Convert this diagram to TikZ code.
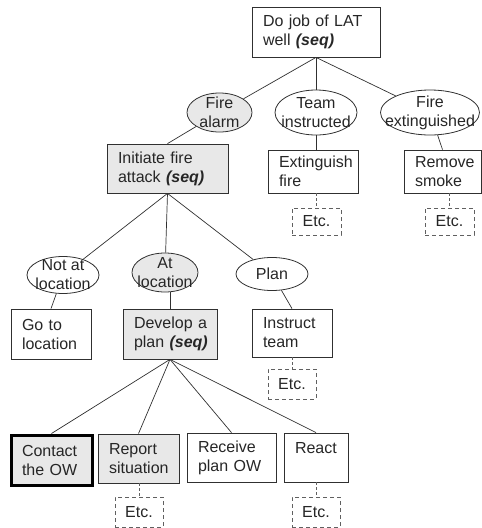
\documentclass[tikz,border=0pt]{standalone}
\usepackage{fontspec}
\setmainfont{Liberation Sans}
\usetikzlibrary{shapes.geometric}
\definecolor{shade}{HTML}{E8E8E8}
\definecolor{edge}{HTML}{303030}
\definecolor{dashgray}{HTML}{606060}
\newcommand{\seqtag}{\textbf{\textit{(seq)}}}
\begin{document}
\begin{tikzpicture}[x=1pt,y=-1pt,
  every node/.style={font=\fontsize{16}{19}\selectfont, text=black!85},
  box/.style={draw=edge, line width=0.8pt, rectangle, inner xsep=11pt, inner ysep=0pt, align=left},
  goal/.style={draw=edge, line width=0.8pt, ellipse, inner sep=0pt},
  filled/.style={fill=shade},
  etcbox/.style={draw=dashgray, dash pattern=on 4pt off 3pt, line width=0.8pt, rectangle, inner sep=0pt},
  link/.style={draw=edge, line width=0.7pt},
  dlink/.style={draw=dashgray, line width=0.7pt, dash pattern=on 3pt off 2pt},
]
\useasboundingbox (0,0) rectangle (482,528);

% top goal
\node[box, text width=106pt, minimum height=50pt] (top) at (316,32) {Do~job~of~LAT\\well~\seqtag};

% first level states
\node[goal, filled, minimum width=65pt, minimum height=39pt, label={[align=center]center:Fire\\alarm}] (fa) at (219.5,112.5) {};
\node[goal, minimum width=82pt, minimum height=45pt, label={[align=center]center:Team\\instructed}] (ti) at (316,112.5) {};
\node[goal, minimum width=99pt, minimum height=45pt, label={[align=center]center:Fire\\extinguished}] (fe) at (430,112.5) {};

% first level tasks
\node[box, filled, text width=99pt, minimum height=49pt] (ifa) at (167.5,168.5) {Initiate~fire\\attack~\seqtag};
\node[box, text width=68pt, minimum height=43pt] (ext) at (313,171.5) {Extinguish\\fire};
\node[box, text width=55pt, minimum height=43pt] (rs) at (442.5,171.5) {Remove\\smoke};
\node[etcbox, minimum width=49pt, minimum height=27pt] (etc1) at (316.5,221.5) {Etc.};
\node[etcbox, minimum width=49pt, minimum height=27pt] (etc2) at (449.5,221.5) {Etc.};

% second level states
\node[goal, minimum width=72pt, minimum height=37pt, label={[align=center]center:Not at\\location}] (nal) at (63,275) {};
\node[goal, filled, minimum width=66pt, minimum height=39pt, label={[align=center]center:At\\location}] (al) at (165,272.5) {};
\node[goal, minimum width=72pt, minimum height=33pt, label={[align=center]center:Plan}] (plan) at (272,274) {};

% second level tasks
\node[box, text width=58pt, minimum height=50pt] (gtl) at (51,334) {Go~to\\location};
\node[box, filled, text width=72pt, minimum height=50pt] (dap) at (170,334) {Develop~a\\plan~\seqtag};
\node[box, text width=58pt, minimum height=48pt] (it) at (292,333) {Instruct\\team};
\node[etcbox, minimum width=48pt, minimum height=30pt] (etc3) at (292,384) {Etc.};

% third level tasks
\node[box, filled, line width=3pt, draw=black, text width=59pt, minimum height=50pt] (cow) at (51.5,460) {Contact\\the~OW};
\node[box, filled, text width=59pt, minimum height=49pt] (rsit) at (138.5,458.5) {Report\\situation};
\node[box, text width=67pt, minimum height=49pt] (rpo) at (231.5,457.5) {Receive\\plan~OW};
\node[box, text width=42pt, minimum height=49pt] (react) at (316,457.5) {React\\\mbox{}};
\node[etcbox, minimum width=48pt, minimum height=30pt] (etc4) at (139,512) {Etc.};
\node[etcbox, minimum width=48pt, minimum height=30pt] (etc5) at (316,512) {Etc.};

% connectors
\draw[link] (top.south) -- (fa);
\draw[link] (top.south) -- (ti);
\draw[link] (top.south) -- (fe);
\draw[link] (fa) -- (ifa.north);
\draw[link] (ti.south) -- (ti.south |- ext.north);
\draw[link] (fe) -- (rs.north);
\draw[link] (ifa.south) -- (nal);
\draw[link] (ifa.south) -- (al);
\draw[link] (ifa.south) -- (plan);
\draw[link] (nal) -- (gtl.north);
\draw[link] (dap.north |- al.south) -- (dap.north);
\draw[link] (plan) -- (it.north);
\draw[link] (dap.south) -- (cow.north);
\draw[link] (dap.south) -- (rsit.north);
\draw[link] (dap.south) -- (rpo.north);
\draw[link] (dap.south) -- (react.north);

% dashed continuations
\draw[dlink] (etc1.north |- ext.south) -- (etc1.north);
\draw[dlink] (etc2.north |- rs.south) -- (etc2.north);
\draw[dlink] (etc3.north |- it.south) -- (etc3.north);
\draw[dlink] (etc4.north |- rsit.south) -- (etc4.north);
\draw[dlink] (etc5.north |- react.south) -- (etc5.north);
\end{tikzpicture}
\end{document}
